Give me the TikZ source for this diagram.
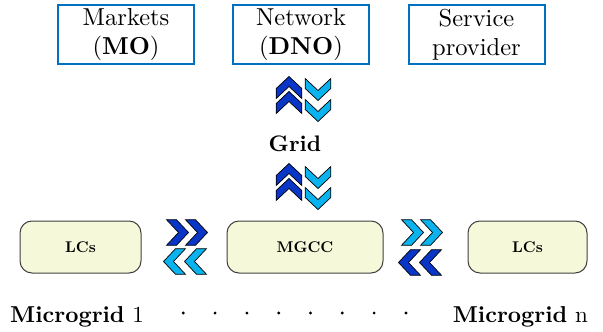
\documentclass[tikz,border=0pt]{standalone}
\usepackage{fontspec}
\setmainfont{lmroman10}[Extension=.otf, UprightFont=*-regular, BoldFont=*-bold,
  ItalicFont=*-italic, BoldItalicFont=*-bolditalic]

\definecolor{topblue}{HTML}{0070C0}
\definecolor{darkchev}{HTML}{0A36C8}
\definecolor{lightchev}{HTML}{0AB2EE}
\definecolor{ctrlfill}{HTML}{F6F8DA}
\definecolor{ctrledge}{HTML}{404040}

\tikzset{
  actor/.style={draw=topblue, line width=2pt, minimum width=136pt, minimum height=59pt,
    inner sep=0pt, align=center, font=\fontsize{24.5}{29}\selectfont},
  ctrl/.style={draw=ctrledge, fill=ctrlfill, line width=1pt, rounded corners=12pt,
    minimum height=52pt, inner sep=0pt, font=\fontsize{15.5}{18}\selectfont\bfseries},
  label/.style={inner sep=0pt, font=\fontsize{23}{27}\selectfont},
  chevout/.style={draw=black, line width=0.7pt, line join=miter},
  % two chevrons pointing along +x, #1 apart, centred on the pic origin
  pics/chevpair/.style={code={
    \pgfmathsetmacro\sa{-(22+#1)/2}
    \pgfmathsetmacro\sb{\sa+#1}
    \foreach \s in {\sa,\sb}{
      \path[pic actions, chevout] (\s,-12.8) -- (\s+10,-12.8) -- (\s+22,0)
        -- (\s+10,12.8) -- (\s,12.8) -- (\s+12,0) -- cycle;
    }
  }},
}

\begin{document}
\begin{tikzpicture}[x=1pt, y=-1pt]
\useasboundingbox (0,0) rectangle (603,332);

% operators and providers
\node[actor] (mo)  at (126,34.5)   {Markets\\(\textbf{MO})};
\node[actor] (dno) at (301,34.5)   {Network\\(\textbf{DNO})};
\node[actor] (sp)  at (476.5,34.5) {Service\\provider};

% grid
\node[label, font=\fontsize{22.5}{27}\selectfont\bfseries, anchor=base] (grid) at (295,151) {Grid};

% exchanges between the grid and the operators / microgrid
\pic[fill=darkchev,  rotate=90]  at (289,95)    {chevpair=15};
\pic[fill=lightchev, rotate=-90] at (318,100)   {chevpair=21};
\pic[fill=darkchev,  rotate=90]  at (289,182)   {chevpair=15};
\pic[fill=lightchev, rotate=-90] at (318,188)   {chevpair=21};

% microgrid controllers
\node[ctrl, minimum width=121pt] (lc1)  at (80.5,247)  {LCs};
\node[ctrl, minimum width=156pt] (mgcc) at (305,247)   {MGCC};
\node[ctrl, minimum width=119pt] (lcn)  at (527.5,247) {LCs};

% exchanges between controllers
\pic[fill=darkchev]               at (187,232.5) {chevpair=19};
\pic[fill=lightchev, rotate=180]  at (185,261.5) {chevpair=21};
\pic[fill=lightchev]              at (422,232.5) {chevpair=19};
\pic[fill=darkchev,  rotate=180]  at (420,262.5) {chevpair=21};

% microgrid labels
\node[label, anchor=base west] (mg1) at (10,322)  {\textbf{Microgrid} 1};
\node[label, anchor=base east] (mgn) at (588,322) {\textbf{Microgrid} n};

\foreach \k in {0,...,7}
  \fill (183.3+31.8*\k,313) circle (1.6);
\end{tikzpicture}
\end{document}
